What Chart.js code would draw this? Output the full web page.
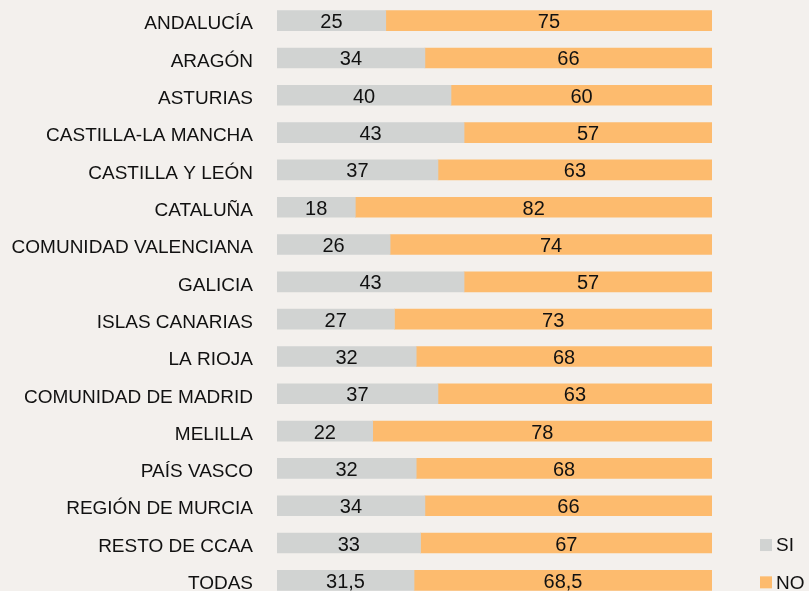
<!DOCTYPE html>
<html>
<head>
<meta charset="utf-8">
<script src="https://cdn.jsdelivr.net/npm/chart.js@4/dist/chart.umd.min.js"></script>
<style>
  html, body { margin: 0; padding: 0; background: #f3f0ed; overflow: hidden; }
  canvas { display: block; }
</style>
</head>
<body>
<canvas id="chart" width="809" height="601"></canvas>
<script>
// Comunidades y porcentajes SI / NO
const regiones = [
  'ANDALUCÍA', 'ARAGÓN', 'ASTURIAS', 'CASTILLA-LA MANCHA', 'CASTILLA Y LEÓN',
  'CATALUÑA', 'COMUNIDAD VALENCIANA', 'GALICIA', 'ISLAS CANARIAS', 'LA RIOJA',
  'COMUNIDAD DE MADRID', 'MELILLA', 'PAÍS VASCO', 'REGIÓN DE MURCIA',
  'RESTO DE CCAA', 'TODAS'
];
const valoresSi = [25, 34, 40, 43, 37, 18, 26, 43, 27, 32, 37, 22, 32, 34, 33, 31.5];
const valoresNo = [75, 66, 60, 57, 63, 82, 74, 57, 73, 68, 63, 78, 68, 66, 67, 68.5];

const colorSi = '#d1d3d2';
const colorNo = '#fdbb6e';
const fuente = '"Liberation Sans", Arial, Helvetica, sans-serif';

// etiquetas de valor dentro de cada tramo
const etiquetasValor = {
  id: 'etiquetasValor',
  afterDatasetsDraw(chart) {
    const ctx = chart.ctx;
    ctx.save();
    ctx.font = '20px ' + fuente;
    ctx.fillStyle = '#111';
    ctx.textAlign = 'center';
    ctx.textBaseline = 'middle';
    chart.data.datasets.forEach((ds, i) => {
      chart.getDatasetMeta(i).data.forEach((bar, j) => {
        const x = (bar.base + bar.x) / 2;
        const txt = String(ds.data[j]).replace('.', ',');
        ctx.fillText(txt, x, bar.y + 2);
      });
    });
    ctx.restore();
  }
};

// leyenda abajo a la derecha
const leyenda = {
  id: 'leyenda',
  afterDraw(chart) {
    const ctx = chart.ctx;
    const y = chart.scales.y;
    const n = chart.data.labels.length;
    ctx.save();
    ctx.font = '19px ' + fuente;
    ctx.textBaseline = 'middle';
    ctx.textAlign = 'left';
    chart.data.datasets.forEach((ds, i) => {
      const cy = y.getPixelForValue(n - 2 + i) + 2;
      ctx.fillStyle = ds.backgroundColor;
      ctx.fillRect(760, cy - 6, 12, 12);
      ctx.fillStyle = '#111';
      ctx.fillText(ds.label, 776, cy + 1);
    });
    ctx.restore();
  }
};

new Chart(document.getElementById('chart'), {
  type: 'bar',
  data: {
    labels: regiones,
    datasets: [
      { label: 'SI', data: valoresSi, backgroundColor: colorSi, borderWidth: 0 },
      { label: 'NO', data: valoresNo, backgroundColor: colorNo, borderWidth: 0 }
    ]
  },
  options: {
    indexAxis: 'y',
    responsive: false,
    animation: false,
    barThickness: 20,
    layout: { padding: { top: 2, bottom: 2, left: 0, right: 97 } },
    scales: {
      x: {
        stacked: true,
        min: 0,
        max: 100,
        display: false
      },
      y: {
        stacked: true,
        grid: { display: false, drawTicks: false },
        border: { display: false },
        ticks: {
          color: '#111',
          font: { family: fuente, size: 19 },
          padding: 24,
          labelOffset: 3.5,
          autoSkip: false
        },
        afterFit(scale) {
          scale.width = 277;
          // sin margen vertical extra por las etiquetas
          scale.paddingTop = 0;
          scale.paddingBottom = 0;
        }
      }
    },
    plugins: {
      legend: { display: false },
      tooltip: { enabled: false }
    }
  },
  plugins: [etiquetasValor, leyenda]
});
</script>
</body>
</html>
